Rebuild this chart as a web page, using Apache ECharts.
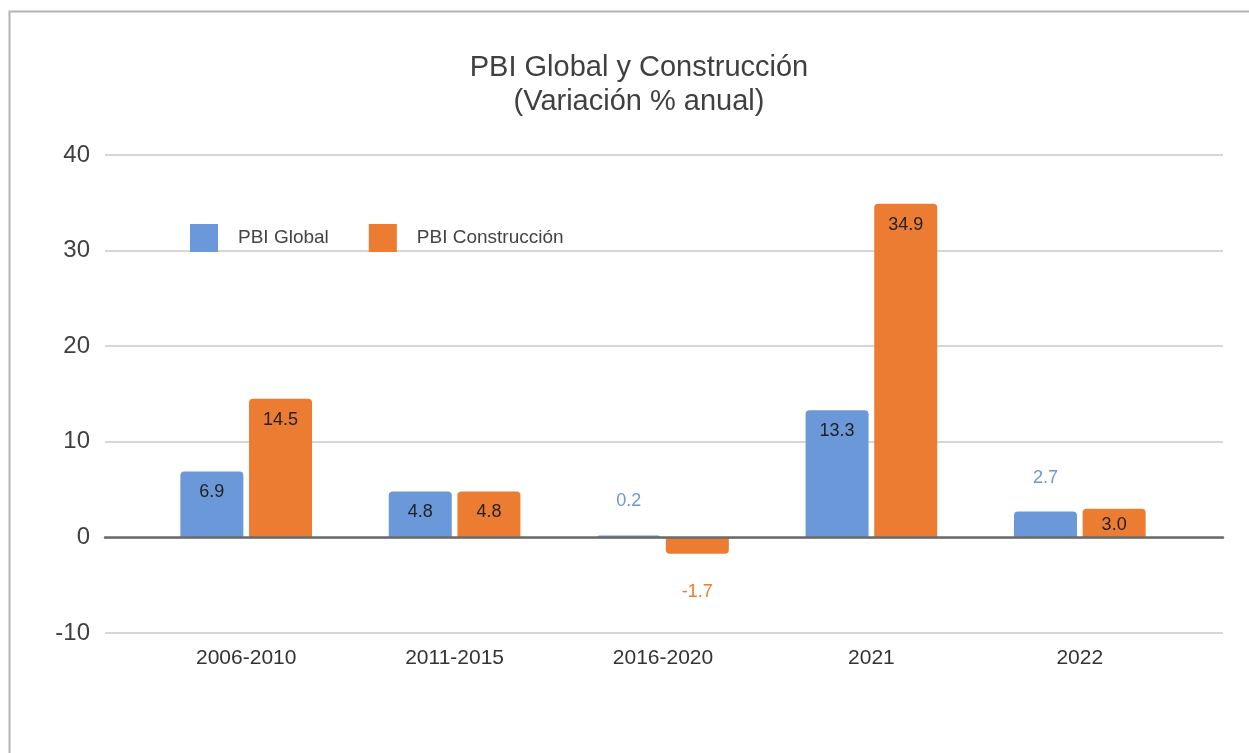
<!DOCTYPE html>
<html>
<head>
<meta charset="utf-8">
<script src="https://cdn.jsdelivr.net/npm/echarts@6/dist/echarts.min.js"></script>
<style>
html, body { margin: 0; padding: 0; background: #fff; }
#main { width: 1249px; height: 753px; }
</style>
</head>
<body>
<div id="main"></div>
<script>
var categories = ['2006-2010', '2011-2015', '2016-2020', '2021', '2022'];
var pbiGlobal = [6.9, 4.8, 0.2, 13.3, 2.7];
var pbiConstruccion = [14.5, 4.8, -1.7, 34.9, 3.0];
var yTicks = { min: -10, max: 40, interval: 10 };

var blue = '#6A98D8', orange = '#EB7C31';
var font = 'Liberation Sans, Arial, sans-serif';

// small bars get their label outside, in the series colour
function barData(values, color) {
  return values.map(function (v) {
    var item = { value: v };
    item.itemStyle = { borderRadius: v < 0 ? [0, 0, 4, 4] : [4, 4, 0, 0] };
    if (Math.abs(v) < 2.9) {
      item.label = {
        position: v < 0 ? 'bottom' : 'top',
        distance: v < 0 ? 29 : 25,
        color: color
      };
    } else if (v < 4) {
      item.label = { distance: 7 };
    }
    return item;
  });
}

var chart = echarts.init(document.getElementById('main'));

chart.setOption({
  animation: false,
  title: {
    text: 'PBI Global y Construcción\n(Variación % anual)',
    left: 634,
    top: 46,
    textAlign: 'center',
    textStyle: { fontFamily: font, fontSize: 29, fontWeight: 'normal', color: '#404040', lineHeight: 34 }
  },
  legend: {
    left: 185,
    top: 219,
    itemWidth: 28,
    itemHeight: 28,
    itemGap: 40,
    icon: 'rect',
    textStyle: { fontFamily: font, fontSize: 19, color: '#444', padding: [0, 0, 0, 15] },
    data: ['PBI Global', 'PBI Construcción']
  },
  graphic: [{
    type: 'rect',
    shape: { x: 9.5, y: 11.5, width: 1300, height: 800 },
    style: { fill: 'none', stroke: '#b4b4b4', lineWidth: 2 },
    silent: true
  }],
  grid: [
    { left: 105, right: 26, top: 155, bottom: 120 },
    { left: 142, right: 65, top: 155, bottom: 120 }
  ],
  xAxis: [{
    type: 'category',
    gridIndex: 0,
    data: [''],
    axisTick: { show: false },
    axisLabel: { show: false },
    axisLine: { show: true, onZero: true, lineStyle: { color: '#6b6b6b', width: 2.5 } },
    z: 5
  }, {
    type: 'category',
    gridIndex: 1,
    data: categories,
    axisTick: { show: false },
    axisLine: { show: false },
    axisLabel: { fontFamily: font, fontSize: 21, color: '#333', margin: 15 }
  }],
  yAxis: [{
    type: 'value',
    gridIndex: 0,
    min: yTicks.min,
    max: yTicks.max,
    interval: yTicks.interval,
    axisLine: { show: false },
    axisTick: { show: false },
    axisLabel: { fontFamily: font, fontSize: 24, color: '#404040', margin: 15 },
    splitLine: { lineStyle: { color: '#d6d6d6', width: 2 } }
  }, {
    type: 'value',
    gridIndex: 1,
    min: yTicks.min,
    max: yTicks.max,
    interval: yTicks.interval,
    show: false,
    splitLine: { show: false }
  }],
  series: [{
    name: 'PBI Global',
    type: 'bar',
    xAxisIndex: 1,
    yAxisIndex: 1,
    barWidth: 63,
    barGap: '9%',
    itemStyle: { color: blue },
    label: {
      show: true,
      position: 'insideTop',
      distance: 12,
      fontFamily: font,
      fontSize: 18,
      color: '#222',
      formatter: function (p) { return p.value.toFixed(1); }
    },
    data: barData(pbiGlobal, blue)
  }, {
    name: 'PBI Construcción',
    type: 'bar',
    xAxisIndex: 1,
    yAxisIndex: 1,
    barWidth: 63,
    barGap: '9%',
    itemStyle: { color: orange },
    label: {
      show: true,
      position: 'insideTop',
      distance: 12,
      fontFamily: font,
      fontSize: 18,
      color: '#222',
      formatter: function (p) { return p.value.toFixed(1); }
    },
    data: barData(pbiConstruccion, orange)
  }]
});
</script>
</body>
</html>
